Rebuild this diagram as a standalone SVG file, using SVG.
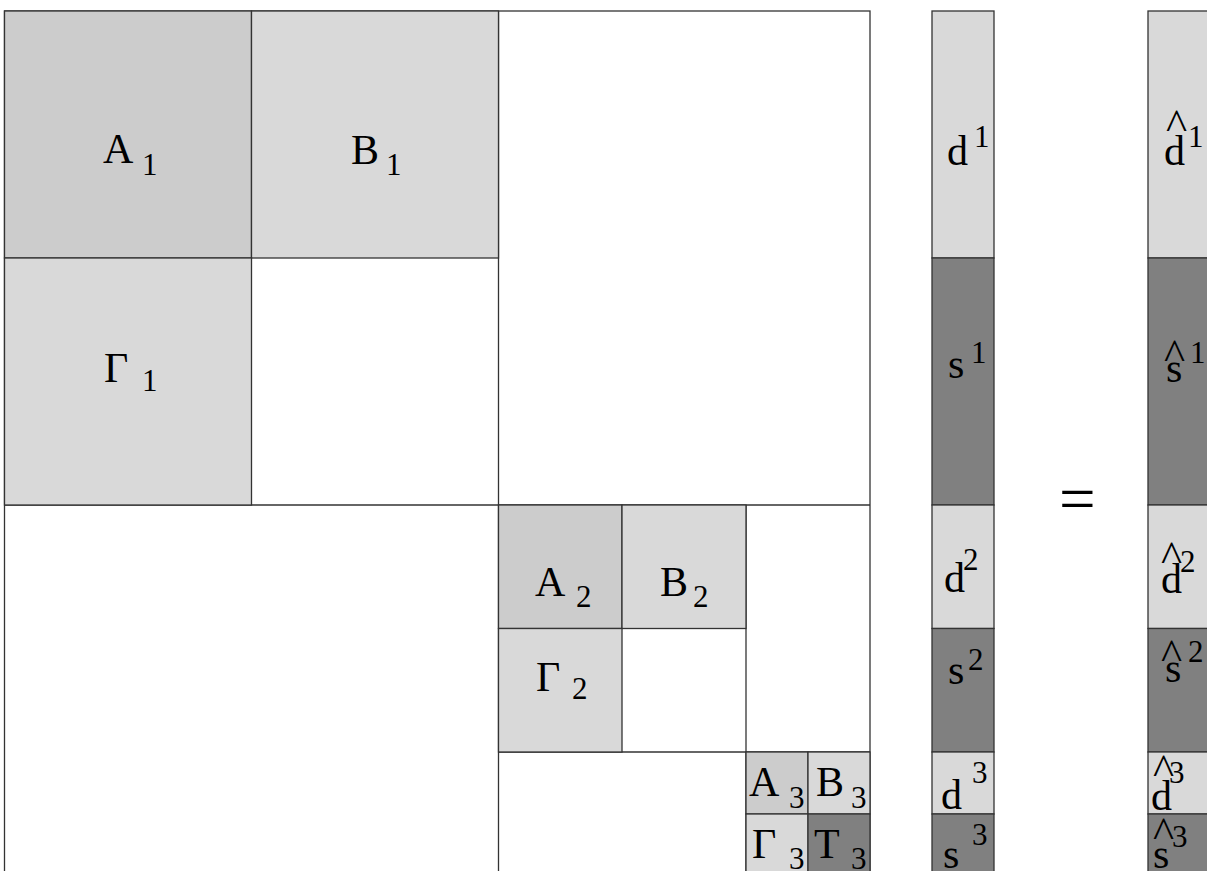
<svg xmlns="http://www.w3.org/2000/svg" width="1207" height="871" viewBox="0 0 1207 871">
<style>
rect{stroke:#333;stroke-width:1.3}
.a{fill:#cccccc}.l{fill:#d9d9d9}.k{fill:#808080}.w{fill:#fff}
text{font-family:"Liberation Serif","Times New Roman",serif;font-size:42px;fill:#000}
.s{font-size:31px}
.h{font-size:45px}
line{stroke:#333;stroke-width:1.3}
</style>
<rect x="0" y="0" width="1207" height="871" fill="#fff" style="stroke:none"/>
<g id="matrix">
<rect class="w" x="4.5" y="11" width="865.5" height="880"/>
<line x1="498.5" y1="11" x2="498.5" y2="880"/>
<line x1="4.5" y1="505" x2="870" y2="505"/>
<line x1="498.5" y1="752" x2="870" y2="752"/>
<line x1="746" y1="505" x2="746" y2="880"/>
</g>
<g id="A1"><rect class="a" x="4.5" y="11" width="247" height="247"/><text x="103" y="163">A<tspan class="s" x="142" y="175">1</tspan></text></g>
<g id="B1"><rect class="l" x="251.5" y="11" width="247" height="247"/><text x="351" y="164">B<tspan class="s" x="386" y="175">1</tspan></text></g>
<g id="G1"><rect class="l" x="4.5" y="258" width="247" height="247"/><text x="104" y="382">Γ<tspan class="s" x="142" y="391">1</tspan></text></g>
<g id="A2"><rect class="a" x="498.5" y="505" width="123.5" height="123.5"/><text x="535" y="596">A<tspan class="s" x="576" y="607">2</tspan></text></g>
<g id="B2"><rect class="l" x="622" y="505" width="124" height="123.5"/><text x="660" y="596">B<tspan class="s" x="693" y="607">2</tspan></text></g>
<g id="G2"><rect class="l" x="498.5" y="628.5" width="123.5" height="123.5"/><text x="536" y="691">Γ<tspan class="s" x="572" y="699">2</tspan></text></g>
<g id="A3"><rect class="a" x="746" y="752" width="62" height="62"/><text x="749" y="796">A<tspan class="s" x="789" y="808">3</tspan></text></g>
<g id="B3"><rect class="l" x="808" y="752" width="62" height="62"/><text x="816" y="796">B<tspan class="s" x="851" y="808">3</tspan></text></g>
<g id="G3"><rect class="l" x="746" y="814" width="62" height="70"/><text x="752" y="858">Γ<tspan class="s" x="789" y="869">3</tspan></text></g>
<g id="T3"><rect class="k" x="808" y="814" width="62" height="70"/><text x="814" y="858">T<tspan class="s" x="851" y="869">3</tspan></text></g>
<g id="d1"><rect class="l" x="932" y="11" width="62" height="247"/><text x="947" y="165">d<tspan class="s" x="974" y="147">1</tspan></text></g>
<g id="s1"><rect class="k" x="932" y="258" width="62" height="247"/><text x="948" y="378">s<tspan class="s" x="971" y="363">1</tspan></text></g>
<g id="d2"><rect class="l" x="932" y="505" width="62" height="123.5"/><text x="944" y="592">d<tspan class="s" x="963" y="570">2</tspan></text></g>
<g id="s2"><rect class="k" x="932" y="628.5" width="62" height="123.5"/><text x="948" y="684">s<tspan class="s" x="968" y="670">2</tspan></text></g>
<g id="d3"><rect class="l" x="932" y="752" width="62" height="62"/><text x="941" y="809">d<tspan class="s" x="972" y="783">3</tspan></text></g>
<g id="s3"><rect class="k" x="932" y="814" width="62" height="70"/><text x="943" y="868">s<tspan class="s" x="972" y="845">3</tspan></text></g>
<g id="eq"><text x="1059" y="521" style="font-size:65px">=</text></g>
<g id="dh1"><rect class="l" x="1148" y="11" width="70" height="247"/><text x="1164" y="165">d</text><text class="h" x="1166" y="139">^</text><text class="s" x="1188" y="147">1</text></g>
<g id="sh1"><rect class="k" x="1148" y="258" width="70" height="247"/><text x="1166" y="382">s</text><text class="h" x="1164" y="369">^</text><text class="s" x="1190" y="363">1</text></g>
<g id="dh2"><rect class="l" x="1148" y="505" width="70" height="123.5"/><text x="1161" y="593">d</text><text class="h" x="1161" y="571">^</text><text class="s" x="1180" y="572">2</text></g>
<g id="sh2"><rect class="k" x="1148" y="628.5" width="70" height="123.5"/><text x="1165" y="682">s</text><text class="h" x="1161" y="669">^</text><text class="s" x="1188" y="662">2</text></g>
<g id="dh3"><rect class="l" x="1148" y="752" width="70" height="62"/><text x="1151" y="810">d</text><text class="h" x="1153" y="784">^</text><text class="s" x="1169" y="783">3</text></g>
<g id="sh3"><rect class="k" x="1148" y="814" width="70" height="70"/><text x="1153" y="868">s</text><text class="h" x="1153" y="847">^</text><text class="s" x="1172" y="847">3</text></g>
<g id="connectors"></g>
</svg>
